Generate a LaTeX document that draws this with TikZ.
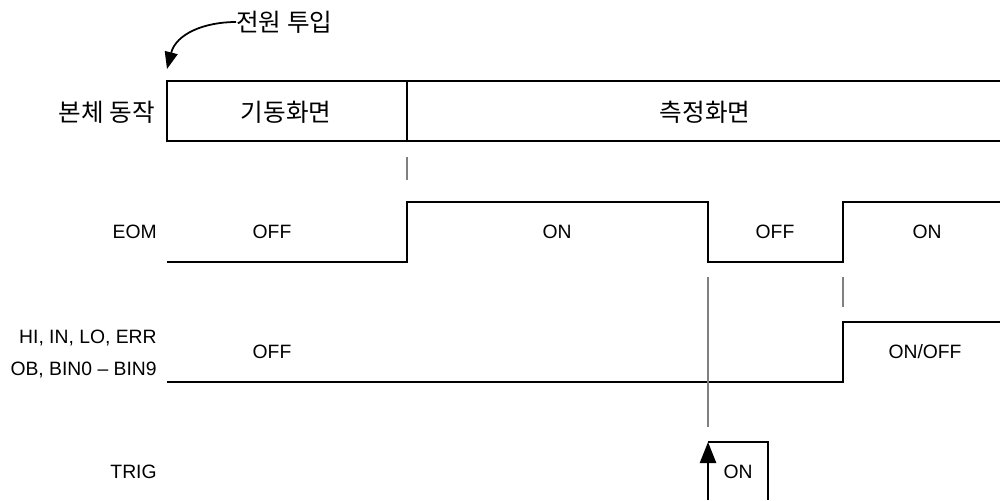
\documentclass[tikz,border=0pt]{standalone}
\usepackage{fontspec}
\setmainfont{Liberation Sans}
\newfontfamily\kor{Noto Sans CJK KR}
\usetikzlibrary{arrows.meta}

\begin{document}
\begin{tikzpicture}[x=0.02cm, y=-0.02cm, font=\fontsize{11}{18}\selectfont, >={Triangle[length=4.2mm, width=3.2mm]},
  every node/.style={inner sep=0pt},
  sig/.style={line width=1.4pt},
  tick/.style={gray, line width=0.6pt},
  kr/.style={font=\kor\fontsize{14}{16}\selectfont}]
  % page frame (1000 x 500 px)
  \useasboundingbox (0,0) rectangle (1000,500);

  % row labels
  \node[kr, anchor=east] (Lmain) at (155,112) {본체 동작};
  \node[anchor=east] (Leom) at (157,232) {EOM};
  \node[anchor=east, align=right] (Lout) at (157,354) {HI, IN, LO, ERR\\OB, BIN0 -- BIN9};
  \node[anchor=east] (Ltrig) at (157,472) {TRIG};

  % power-on note
  \node[kr, anchor=west] (pwr) at (236,22) {전원 투입};
  \coordinate (pwrTip) at (167,69);
  \draw[line width=1pt, -{Triangle[length=3.4mm, width=2.6mm]}] (pwr.west) .. controls (204,22) and (176,34) .. (pwrTip);

  % main unit state bar
  \draw[sig] (1000,81) -- (167,81) -- (167,141) -- (1000,141);
  \draw[sig] (407,81) -- (407,141);
  \node[kr] (boot) at (286,112) {기동화면};
  \node[kr] (meas) at (705,112) {측정화면};

  % EOM
  \draw[sig] (167,262) -- (407,262) -- (407,202) -- (708,202) -- (708,262)
    -- (843,262) -- (843,202) -- (1000,202);
  \node (eomA) at (272,232) {OFF};
  \node (eomB) at (557,232) {ON};
  \node (eomC) at (775,232) {OFF};
  \node (eomD) at (927,232) {ON};

  % judgement outputs
  \draw[sig] (167,382) -- (843,382) -- (843,322) -- (1000,322);
  \node (outA) at (272,352) {OFF};
  \node (outB) at (925,352) {ON/OFF};

  % TRIG pulse
  \draw[sig, ->] (708,500) -- (708,442);
  \draw[sig] (708,442) -- (768,442) -- (768,500);
  \node (trigOn) at (738,472) {ON};

  % timing guides
  \draw[tick] (407,157) -- (407,180);
  \draw[tick] (708,277) -- (708,427);
  \draw[tick] (843,277) -- (843,307);
\end{tikzpicture}
\end{document}
